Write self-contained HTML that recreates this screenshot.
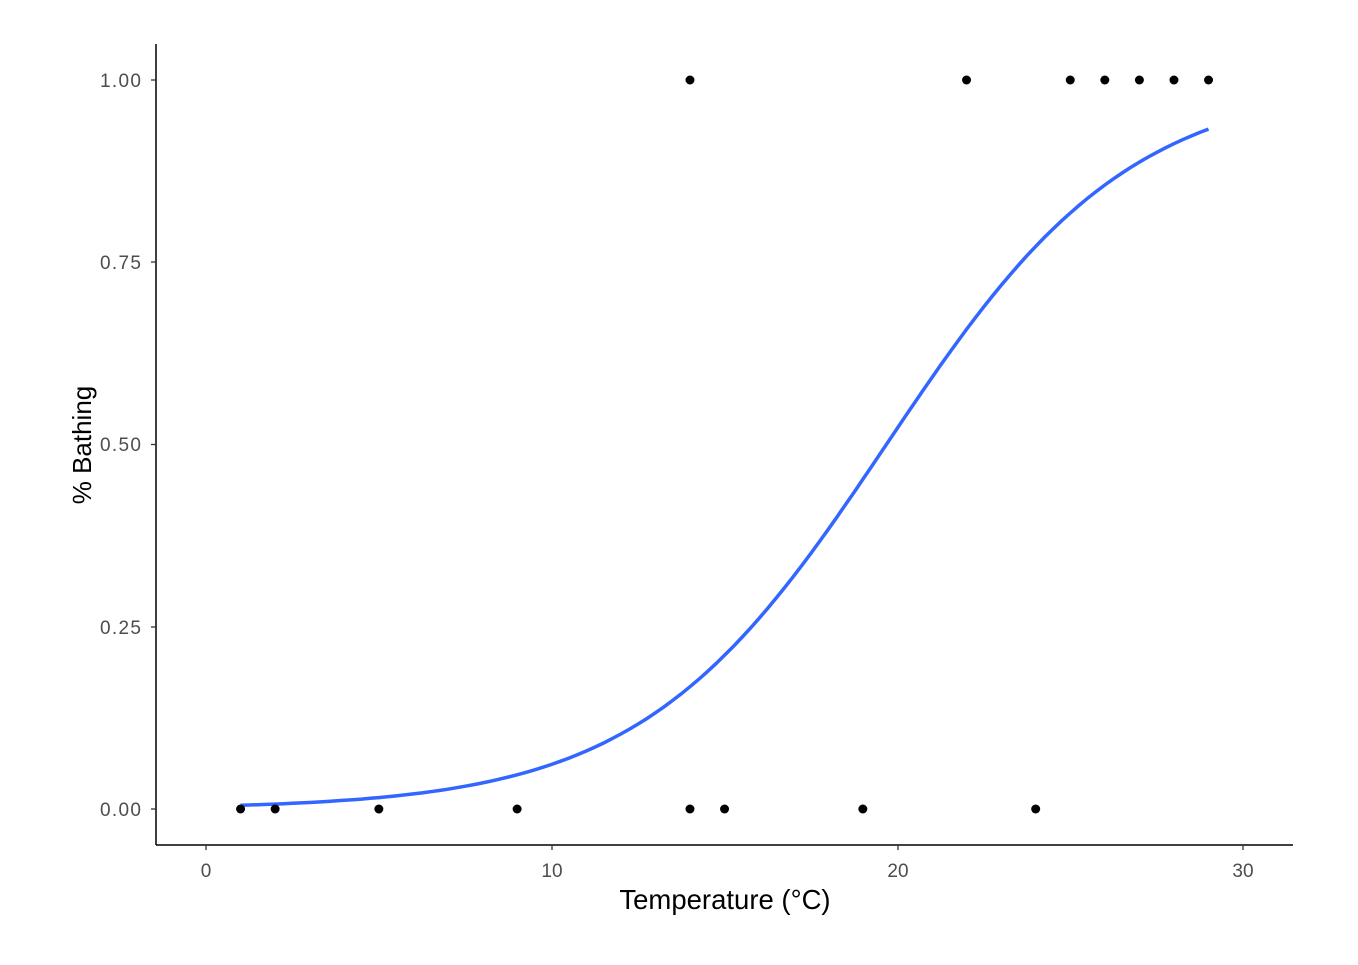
<!DOCTYPE html>
<html><head><meta charset="utf-8"><style>
html,body{margin:0;padding:0;background:#fff;}
svg text{font-family:"Liberation Sans",Arial,sans-serif;}
</style></head><body>
<svg id="s" width="1358" height="960" xmlns="http://www.w3.org/2000/svg">
<rect width="1358" height="960" fill="#fff"/>
<g stroke="#000" stroke-width="1.5" fill="none">
<line x1="156" y1="44" x2="156" y2="845"/>
<line x1="156" y1="845" x2="1293" y2="845"/>
</g>
<g stroke="#333" stroke-width="1.3">
<line x1="151" y1="809" x2="156" y2="809"/>
<line x1="151" y1="627" x2="156" y2="627"/>
<line x1="151" y1="444.5" x2="156" y2="444.5"/>
<line x1="151" y1="262" x2="156" y2="262"/>
<line x1="151" y1="80" x2="156" y2="80"/>
<line x1="206" y1="845" x2="206" y2="850"/>
<line x1="552" y1="845" x2="552" y2="850"/>
<line x1="898" y1="845" x2="898" y2="850"/>
<line x1="1243" y1="845" x2="1243" y2="850"/>
</g>
<g fill="#4d4d4d" font-size="19" text-anchor="end">
<text x="141" y="816" textLength="41">0.00</text>
<text x="141" y="634" textLength="41">0.25</text>
<text x="141" y="451" textLength="41">0.50</text>
<text x="141" y="269" textLength="41">0.75</text>
<text x="141" y="87" textLength="41">1.00</text>
</g>
<g fill="#4d4d4d" font-size="19" text-anchor="middle">
<text x="206" y="877">0</text>
<text x="552" y="877">10</text>
<text x="898" y="877">20</text>
<text x="1243" y="877">30</text>
</g>
<text x="725" y="909" font-size="27.5" text-anchor="middle" fill="#000">Temperature (°C)</text>
<text transform="translate(91,445) rotate(-90)" font-size="26" text-anchor="middle" fill="#000">% Bathing</text>
<path id="curve" fill="none" stroke="#3366ff" stroke-width="3.5"/>
<g id="pts" fill="#000"></g>
</svg>
<script>
var X=function(t){return 206+t*34.57;},Y=function(p){return 809-p*729;};
var d="";for(var t=1;t<=29.001;t+=0.25){var p=1/(1+Math.exp(-(-5.55+0.282*t)));d+=(d?"L":"M")+X(t).toFixed(1)+","+Y(p).toFixed(1);}
document.getElementById("curve").setAttribute("d",d);
var pts=[[1,0],[2,0],[5,0],[9,0],[14,0],[15,0],[19,0],[24,0],[14,1],[22,1],[25,1],[26,1],[27,1],[28,1],[29,1]];
var g=document.getElementById("pts"),h="";
pts.forEach(function(q){h+='<circle cx="'+X(q[0])+'" cy="'+Y(q[1])+'" r="4.5"/>';});
g.innerHTML=h;
</script>
</body></html>
